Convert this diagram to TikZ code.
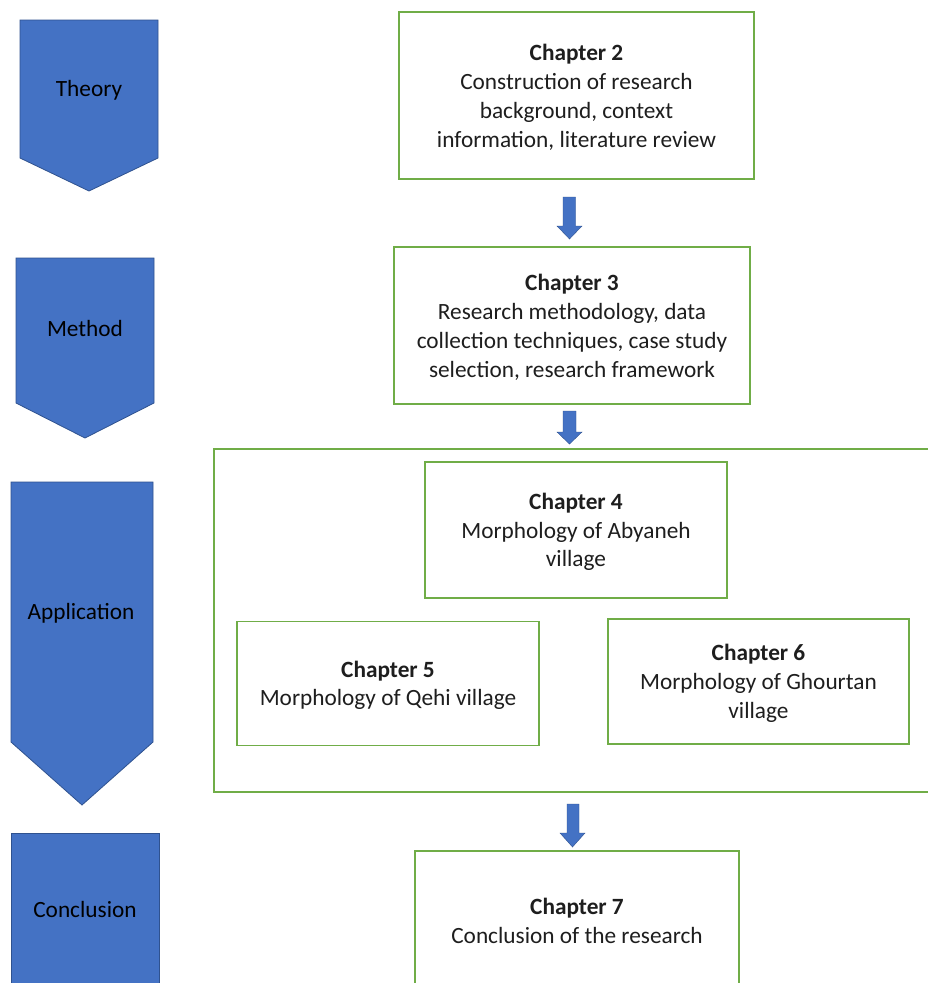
\documentclass[tikz,border=0pt]{standalone}
\usepackage{fontspec}
\setmainfont{Carlito}

\definecolor{phaseblue}{HTML}{4472C4}
\definecolor{phaseedge}{HTML}{2F528F}
\definecolor{boxgreen}{HTML}{70AD47}
\definecolor{bodytext}{HTML}{1E1E1E}

% left edge, right edge, top, bottom of the sides, tip of the point
\newcommand\phaseshape[5]{%
  \path[phase] (#1,#3) -- (#2,#3) -- (#2,#4) -- ({(#1+#2)/2},#5) -- (#1,#4) -- cycle;}
% shaft left, shaft right, head left, head right, top, head top, tip
\newcommand\downblock[7]{%
  \path[flowarrow] (#1,#5) -- (#2,#5) -- (#2,#6) -- (#4,#6)
    -- ({(#3+#4)/2},#7) -- (#3,#6) -- (#1,#6) -- cycle;}
% a little extra room above the first line of a box text
\newcommand\toplift{\rule{0pt}{20pt}}

\begin{document}
\begin{tikzpicture}[x=1pt,y=-1pt,
  phase/.style={fill=phaseblue,draw=phaseedge,line width=0.8pt,line join=miter},
  phaselabel/.style={text=black,font=\fontsize{23.3}{28.7}\selectfont,
    text height=15pt,text depth=0pt,inner sep=0pt},
  flowarrow/.style={fill=phaseblue,draw=phaseedge,line width=0.4pt},
  chapbox/.style={draw=boxgreen,line width=1.6pt,fill=white,align=center,
    inner sep=0pt,text=bodytext,font=\fontsize{23.3}{28.7}\selectfont},
  frame/.style={draw=boxgreen,line width=1.6pt,inner sep=0pt}]

\clip (0,0) rectangle (928,983);
\fill[white] (0,0) rectangle (928,983);

% phase markers on the left
\phaseshape{20}{158}{20}{158}{191}
\node[phaselabel] (theory) at (89,89) {Theory};
\phaseshape{16}{154}{258}{403}{438}
\node[phaselabel] (method) at (85,329) {Method};
\phaseshape{11}{153}{482}{742}{805}
\node[phaselabel] (application) at (81,612) {Application};
\path[phase] (11,833) rectangle (159,1000);
\node[phaselabel] (conclusion) at (85,910) {Conclusion};

% chapter boxes
\node[chapbox,minimum width=355pt,minimum height=167pt] (ch2) at (576.5,95.5)
  {\toplift\textbf{Chapter 2}\\Construction of research\\background, context\\information, literature review};
\node[chapbox,minimum width=356pt,minimum height=157pt] (ch3) at (572,325.5)
  {\toplift\textbf{Chapter 3}\\Research methodology, data\\collection techniques, case study\\selection, research framework};

\node[frame,minimum width=732pt,minimum height=343pt] (cases) at (580,620.5) {};

\node[chapbox,minimum width=302pt,minimum height=136pt] (ch4) at (576,530)
  {\toplift\textbf{Chapter 4}\\Morphology of Abyaneh\\village};
\node[chapbox,minimum width=302pt,minimum height=124pt] (ch5) at (388,683.5)
  {\toplift\textbf{Chapter 5}\\Morphology of Qehi village};
\node[chapbox,minimum width=301pt,minimum height=125pt] (ch6) at (758.5,681.5)
  {\toplift\textbf{Chapter 6}\\Morphology of Ghourtan\\village};
\node[chapbox,minimum width=324pt,minimum height=136pt] (ch7) at (577,919)
  {\toplift\textbf{Chapter 7}\\Conclusion of the research};

% block arrows between the stages
\downblock{563}{575.5}{557}{582}{197}{226}{239}
\downblock{563}{576}{557}{582}{411}{432}{444}
\downblock{567}{579}{560}{585}{804}{833}{847}

\end{tikzpicture}
\end{document}
